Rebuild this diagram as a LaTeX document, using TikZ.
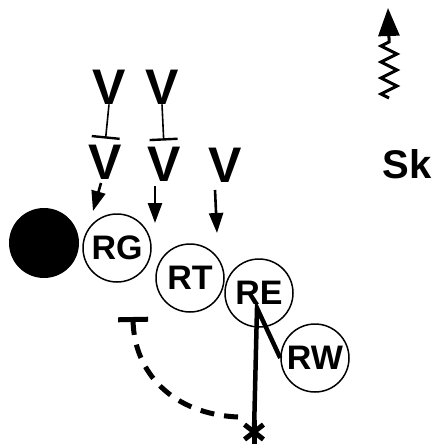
\documentclass[tikz,border=0pt]{standalone}
\usepackage{fontspec}
\setmainfont{Liberation Sans}
\setsansfont{Liberation Sans}
\usetikzlibrary{arrows.meta,decorations.pathmorphing}
\tikzset{player/.style={circle,draw,line width=1.5pt,minimum size=68pt,inner sep=0pt,font=\fontsize{34}{34}\selectfont\bfseries},
    vlabel/.style={inner sep=0pt,font=\fontsize{50}{50}\selectfont\bfseries},
    arr/.style={line width=2.6pt,-{Triangle[length=20pt,width=14pt]}},
    inh/.style={line width=1.6pt,-{Bar[width=28pt,line width=2.4pt]}},
}
\newcommand{\ar}[2]{\draw[arr] (#1) -- (#2);}
\newcommand{\inhib}[2]{\draw[inh,shorten >=6pt] (#1.south) -- (#2.north);}

\begin{document}
\begin{tikzpicture}[x=1pt,y=-1pt]
        \useasboundingbox (0,0) rectangle (437,444);

        \fill (44,243) circle (35pt);
        \node[player] (rg) at (117,248) {RG};
        \node[player] (rt) at (190,278) {RT};
        \node[player] (re) at (259,293) {RE};
        \node[player] (rw) at (315,358) {RW};

        \node[vlabel] (v1) at (109,87) {V};
        \node[vlabel] (v2) at (162,87) {V};
        \node[vlabel] (v3) at (105,162) {V};
        \node[vlabel] (v4) at (164,164) {V};
        \node[vlabel] (v5) at (225,165) {V};

        \inhib{v1}{v3}
        \inhib{v2}{v4}

        \coordinate (a1) at (93,211);
        \coordinate (a2) at (155,223);
        \coordinate (a3) at (217,233);
        \ar{101,183}{a1}
        \ar{155,186}{a2}
        \ar{215,190}{a3}

        % route of RE down to the star
        \coordinate (cut) at (257,308);
        \coordinate (star) at (254,432);
        \draw[line width=4.5pt,line join=miter] (rw.west) -- (cut) -- (star);
        \foreach \a in {38,90,142}
            \draw[line width=5pt] (star) ++(\a:12) -- ++(\a+180:24);

        % dashed block back toward RG
        \coordinate (blk) at (133,317);
        \coordinate (d0) at (238,417);
        \draw[line width=5pt,dash pattern=on 14pt off 10pt,-{Bar[width=30pt,line width=5pt]}]
            (d0) .. controls (172,414) and (134,372) .. (blk);

        % motion arrow and label
        \coordinate (sq0) at (389,98);
        \coordinate (sq1) at (389,38);
        \coordinate (sq2) at (388,8);
        \draw[line width=3pt,decorate,
            decoration={zigzag,segment length=16pt,amplitude=8pt}] (sq0) -- (sq1);
        \draw[line width=3pt,-{Triangle[length=28pt,width=21pt]}] (sq1) -- (sq2);
        \node[font=\fontsize{40}{40}\selectfont\bfseries] (sk) at (407,164) {Sk};
    \end{tikzpicture}
\end{document}
